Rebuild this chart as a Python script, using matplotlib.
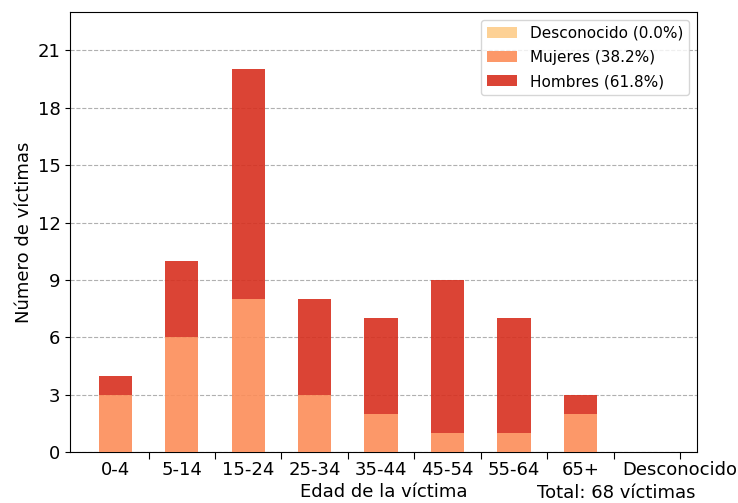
import matplotlib
matplotlib.use("Agg")
import matplotlib.pyplot as plt
import numpy as np

# data
grupos = ["0-4", "5-14", "15-24", "25-34", "35-44", "45-54", "55-64", "65+", "Desconocido"]
desconocido = [0, 0, 0, 0, 0, 0, 0, 0, 0]
mujeres = [3, 6, 8, 3, 2, 1, 1, 2, 0]
hombres = [1, 4, 12, 5, 5, 8, 6, 1, 0]

total = sum(desconocido) + sum(mujeres) + sum(hombres)
pct = lambda s: 100.0 * sum(s) / total

plt.rcParams['font.size'] = 13

fig = plt.figure(figsize=(7.38, 5.03), dpi=100)
ax = fig.add_axes([0.095, 0.101, 0.849, 0.875])

x = np.arange(len(grupos))
w = 0.5
ax.bar(x, desconocido, w, color='#fdcc8a', alpha=0.9,
       label='Desconocido (%.1f%%)' % pct(desconocido), zorder=3)
ax.bar(x, mujeres, w, bottom=desconocido, color='#fc8d59', alpha=0.9,
       label='Mujeres (%.1f%%)' % pct(mujeres), zorder=3)
ax.bar(x, hombres, w, bottom=np.array(desconocido) + np.array(mujeres),
       color='#d7301f', alpha=0.9, label='Hombres (%.1f%%)' % pct(hombres), zorder=3)

# ticks between categories, labels centred on bars
# (last label sits half a slot to the right, as in the original)
label_pos = list(x[:-1]) + [x[-1] + 0.5]
ax.xaxis.remove_overlapping_locs = False
ax.set_xticks(x + 0.5)
ax.set_xticklabels([])
ax.set_xticks(label_pos, minor=True)
ax.set_xticklabels(grupos, minor=True)
ax.tick_params(axis='x', which='minor', length=0, pad=6)
ax.tick_params(axis='x', which='major', length=5)
ax.set_xlim(-0.68, 8.75)

ax.set_ylim(0, 23)
ax.set_yticks(range(0, 22, 3))
ax.yaxis.grid(True, linestyle='--', color='#b0b0b0', linewidth=0.8, zorder=0)

ax.set_ylabel('Número de víctimas', labelpad=3)
ax.set_xlabel('Edad de la víctima', labelpad=3)
ax.annotate('Total: %d víctimas' % total, xy=(0.871, -0.093), xycoords='axes fraction',
            ha='center', va='center', fontsize=13)

ax.legend(loc='upper right', fontsize=11, labelspacing=0.6)

fig.savefig('out.png', dpi=100)
